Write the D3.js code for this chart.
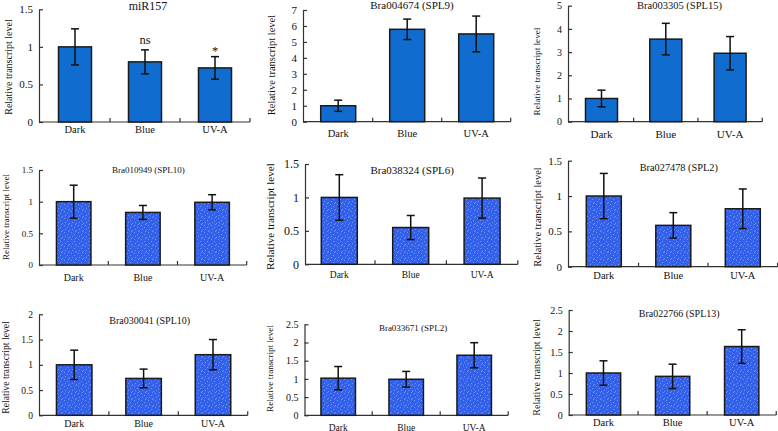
<!DOCTYPE html>
<html><head><meta charset="utf-8">
<script src="https://cdn.jsdelivr.net/npm/d3@7/dist/d3.min.js"></script>
<style>html,body{margin:0;padding:0;background:#fff}svg{display:block}text{font-family:"Liberation Serif","Times New Roman",serif;fill:#111}</style>
</head><body><svg id="c" width="778" height="431"></svg>
<script>
const categories = ["Dark", "Blue", "UV-A"];
const titles = ["miR157", "Bra004674 (SPL9)", "Bra003305 (SPL15)", "Bra010949 (SPL10)", "Bra038324 (SPL6)", "Bra027478 (SPL2)", "Bra030041 (SPL10)", "Bra033671 (SPL2)", "Bra022766 (SPL13)"];
const means = [[1.0, 0.80, 0.72], [1.0, 5.79, 5.5], [1.0, 3.56, 2.95], [1.0, 0.83, 0.99], [1.0, 0.55, 0.99], [1.0, 0.585, 0.82], [1.0, 0.73, 1.2], [1.02, 0.99, 1.65], [1.0, 0.92, 1.63]];
const errors = [[0.24, 0.16, 0.15], [0.35, 0.64, 1.12], [0.36, 0.68, 0.72], [0.26, 0.11, 0.12], [0.34, 0.18, 0.30], [0.32, 0.18, 0.28], [0.29, 0.185, 0.30], [0.32, 0.215, 0.345], [0.29, 0.29, 0.40]];
const yMax = [1.5, 7, 5, 1.5, 1.5, 1.5, 2, 2.5, 2.5];
const yStep = [0.5, 1, 1, 0.5, 0.5, 0.5, 0.5, 0.5, 0.5];
const sigLabels = ["", "ns", "*"];
const yTitle = "Relative transcript level";

// layout (pixels) per panel
const layout = [
  {ax:39, c0:75, step:70, bw:33, yT:9.3, yB:122, solid:true, tx:148, ty:9.5, tf:12, tk:11, xl:10.5, xlb:133, ytx:8, yty:67, ytf:10},
  {ax:303, c0:338.2, step:69, bw:35, yT:10, yB:121.7, solid:true, tx:412, ty:8.5, tf:11, tk:11, xl:10.5, xlb:137, ytx:271, yty:65, ytf:10.5},
  {ax:568, c0:601.5, step:64.3, bw:32, yT:5.7, yB:121.7, solid:true, tx:679.5, ty:8.5, tf:10.5, tk:10, xl:11, xlb:137.5, ytx:537, yty:71.5, ytf:9.2},
  {ax:39, c0:73.7, step:69.2, bw:34.5, yT:170, yB:265, solid:false, tx:148.3, ty:173, tf:9, tk:9, xl:10, xlb:281, ytx:6, yty:217, ytf:9},
  {ax:305, c0:339.3, step:71.4, bw:36, yT:164, yB:264.3, solid:false, tx:412.2, ty:174, tf:11, tk:12, xl:9.5, xlb:278, ytx:270.5, yty:216.5, ytf:11.2},
  {ax:568, c0:603.8, step:69.5, bw:35, yT:160.7, yB:266.7, solid:false, tx:678.8, ty:171, tf:10.3, tk:11, xl:10.5, xlb:278.5, ytx:537, yty:217, ytf:10.4},
  {ax:39, c0:74.2, step:69.4, bw:35.5, yT:314.3, yB:415.3, solid:false, tx:149.7, ty:324, tf:10, tk:9.5, xl:10, xlb:427, ytx:6, yty:367.5, ytf:9.7},
  {ax:304.5, c0:338.2, step:68, bw:34.5, yT:324.3, yB:415.3, solid:false, tx:413, ty:331, tf:9, tk:10, xl:9.5, xlb:430.5, ytx:269.5, yty:368.5, ytf:9.1},
  {ax:568.7, c0:603.5, step:69.1, bw:34.3, yT:310, yB:415, solid:false, tx:679.2, ty:317, tf:10, tk:10, xl:10.5, xlb:426, ytx:536, yty:367.5, ytf:10.1}
];

const svg = d3.select("#c");
const defs = svg.append("defs");
const pat = defs.append("pattern").attr("id","dots").attr("patternUnits","userSpaceOnUse").attr("width",7).attr("height",7);
pat.append("rect").attr("width",7).attr("height",7).attr("fill","#3461ea");
[[1,1],[4,3],[2,5],[6,6],[5,0]].forEach(([x,y])=>pat.append("rect").attr("x",x).attr("y",y).attr("width",1).attr("height",1).attr("fill","#6f92f3"));

const solidFill = "#106dcf";

layout.forEach((L, i) => {
  const g = svg.append("g");
  const bandStart = L.c0 - L.step/2;
  const x = d3.scaleBand().domain(categories).range([bandStart, bandStart + 3*L.step]).padding(0);
  const y = d3.scaleLinear().domain([0, yMax[i]]).range([L.yB, L.yT]);
  const fmt = d3.format("~g");

  // y axis
  const ya = d3.axisLeft(y).tickValues(d3.range(0, yMax[i] + 1e-9, yStep[i])).tickSize(-4).tickSizeOuter(0).tickPadding(6).tickFormat(fmt);
  const yg = g.append("g").attr("transform", `translate(${L.ax},0)`).call(ya);
  yg.select(".domain").attr("stroke","#333").attr("stroke-width",1.2);
  yg.selectAll(".tick line").attr("stroke","#333").attr("stroke-width",1.2);
  yg.selectAll(".tick text").attr("font-size", L.tk).attr("font-family","Liberation Serif").attr("fill","#111");

  // x axis line with boundary ticks
  const xEnd = bandStart + 3*L.step;
  g.append("line").attr("x1", L.ax).attr("x2", xEnd).attr("y1", L.yB).attr("y2", L.yB).attr("stroke","#333").attr("stroke-width",1.2);
  const bounds = categories.slice(1).map(c => x(c)).concat([xEnd]);
  g.selectAll("line.xt").data(bounds).join("line").attr("class","xt")
    .attr("x1", d=>d).attr("x2", d=>d).attr("y1", L.yB).attr("y2", L.yB-4).attr("stroke","#333").attr("stroke-width",1.2);
  g.selectAll("text.xl").data(categories).join("text").attr("class","xl")
    .attr("x", c => x(c) + x.bandwidth()/2).attr("y", L.xlb).attr("text-anchor","middle").attr("font-size", L.xl).text(c=>c);

  // bars
  const data = categories.map((c, k) => ({c, v: means[i][k], e: errors[i][k], k}));
  g.selectAll("rect.bar").data(data).join("rect").attr("class","bar")
    .attr("x", d => x(d.c) + x.bandwidth()/2 - L.bw/2).attr("width", L.bw)
    .attr("y", d => y(d.v)).attr("height", d => y(0) - y(d.v))
    .attr("fill", L.solid ? solidFill : "url(#dots)").attr("stroke","#1a1a1a").attr("stroke-width",1.5);

  // error bars
  const eb = g.selectAll("g.eb").data(data).join("g").attr("class","eb");
  eb.append("line").attr("x1", d=>x(d.c)+x.bandwidth()/2).attr("x2", d=>x(d.c)+x.bandwidth()/2)
    .attr("y1", d=>y(d.v + d.e)).attr("y2", d=>y(d.v - d.e)).attr("stroke","#111").attr("stroke-width",1.5);
  [1,-1].forEach(s => eb.append("line").attr("x1", d=>x(d.c)+x.bandwidth()/2-4).attr("x2", d=>x(d.c)+x.bandwidth()/2+4)
    .attr("y1", d=>y(d.v + s*d.e)).attr("y2", d=>y(d.v + s*d.e)).attr("stroke","#111").attr("stroke-width",1.5));

  if (i === 0) {
    g.selectAll("text.sig").data(data.filter(d => sigLabels[d.k])).join("text").attr("class","sig")
      .attr("x", d => x(d.c) + x.bandwidth()/2).attr("y", d => y(d.v + d.e) - (sigLabels[d.k]==="*" ? 1.5 : 5.5))
      .attr("text-anchor","middle").attr("font-size", 12.5).text(d => sigLabels[d.k]);
  }

  // title
  g.append("text").attr("x", L.tx).attr("y", L.ty).attr("text-anchor","middle").attr("font-size", L.tf).text(titles[i]);
  // y title
  g.append("text").attr("transform", `translate(${L.ytx + L.ytf*0.35},${L.yty}) rotate(-90)`).attr("text-anchor","middle").attr("font-size", L.ytf).text(yTitle);
});
</script></body></html>
